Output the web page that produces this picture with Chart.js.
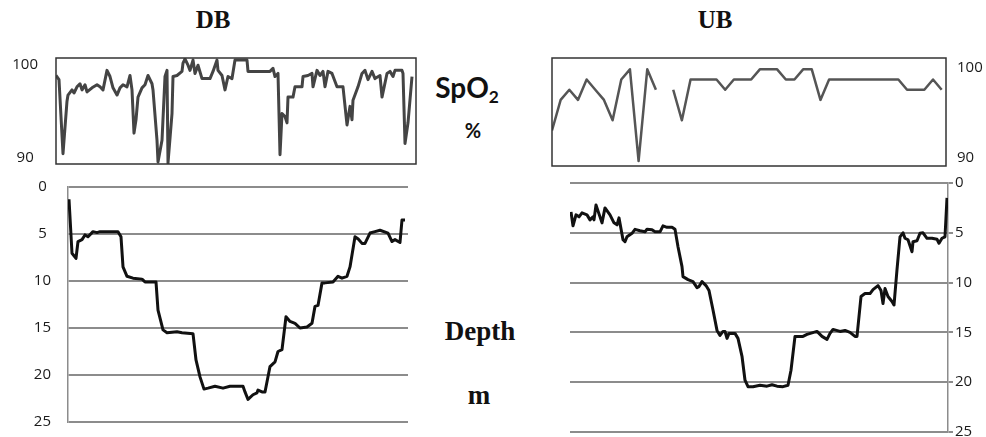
<!DOCTYPE html>
<html><head><meta charset="utf-8">
<script src="https://cdn.jsdelivr.net/npm/chart.js@4.4.1/dist/chart.umd.min.js"></script>
<style>
html,body{margin:0;padding:0;background:#fff;}
#wrap{position:relative;width:986px;height:437px;overflow:hidden;background:#fff;}
canvas{position:absolute;}
.t{position:absolute;transform:translate(-50%,-50%);line-height:1;white-space:nowrap;color:#111;}
.serif{font-family:"Liberation Serif","DejaVu Serif",serif;font-weight:bold;}
.sans{font-family:Lato,"Open Sans",sans-serif;font-weight:bold;}
</style></head><body>
<div id="wrap">
<canvas id="dbSpo2C" width="420" height="120" style="left:0;top:50px"></canvas>
<canvas id="ubSpo2C" width="446" height="125" style="left:540px;top:50px"></canvas>
<canvas id="dbDepthC" width="420" height="255" style="left:0;top:177px"></canvas>
<canvas id="ubDepthC" width="446" height="264" style="left:540px;top:173px"></canvas>
<div class="t serif" style="left:213px;top:19px;font-size:25px">DB</div>
<div class="t serif" style="left:715px;top:19px;font-size:25px">UB</div>
<div class="t sans" style="left:467px;top:87px;font-size:28px">SpO<span style="font-size:0.62em;position:relative;top:0.3em">2</span></div>
<div class="t sans" style="left:473px;top:130px;font-size:20px">%</div>
<div class="t serif" style="left:480px;top:331px;font-size:27px">Depth</div>
<div class="t serif" style="left:479px;top:395px;font-size:27px">m</div>
</div>
<script>
// tick labels
const spo2TickLabels = [90, 100];
const depthTickLabels = [0, 5, 10, 15, 20, 25];

// DB SpO2 (%), time in samples
const dbSpo2Time = [0,3,7,11,12,16,18,21,24,26,29,31,36,41,44,47,51,54,57,61,64,67,71,74,76,78,80,82,86,89,92,96,97,101,102,106,109,111,112,116,117,121,126,127,129,132,134,137,139,142,146,154,157,161,162,166,169,172,176,179,191,192,214,217,219,222,224,226,229,231,232,237,239,246,247,252,256,257,261,264,267,269,272,276,281,287,291,294,296,297,302,306,309,312,316,319,324,326,331,334,337,339,346,347,349,352,356];
const dbSpo2 = [98.5,98.1,90.9,96.0,96.6,97.1,96.8,97.4,97.7,97.1,
  97.6,96.9,97.3,97.6,97.4,97.1,99.0,98.4,97.3,96.6,
  97.3,97.6,97.4,98.5,97.1,92.9,94.2,96.4,97.3,97.6,
  98.5,97.7,97.1,92.2,90.1,92.2,98.4,99.0,90.0,94.8,
  98.4,98.5,98.9,99.7,100.1,99.5,99.0,100.0,98.7,99.5,
  98.2,98.2,98.9,100.0,99.0,98.5,97.1,98.4,98.2,100.0,
  100.0,98.9,98.9,99.2,98.4,98.7,90.8,94.8,94.5,93.9,
  96.4,96.4,97.4,97.4,98.4,98.5,98.7,97.4,99.0,98.5,
  98.9,97.4,98.9,98.7,97.4,97.4,93.7,95.5,94.2,96.1,
  97.4,98.7,99.0,98.1,98.9,98.2,98.5,96.4,98.7,98.9,
  98.4,99.0,99.0,98.7,91.9,93.9,98.4];

// UB SpO2 (%)
const ubSpo2Sample = [0,1,2,3,4,5,6,7,8,9,10,11,12,13,14,15,16,17,18,19,20,21,22,23,24,25,26,27,28,29,30,31,32,33,34,35,36,37,38,39,40,41,42,43,44,45];
const ubSpo2 = [94,97,98,97,99,98,97,95,99,100,
  91,100,98,null,98,95,99,99,99,99,
  98,99,99,99,100,100,100,99,99,100,
  100,97,99,99,99,99,99,99,99,99,
  99,98,98,98,99,98];

// DB depth (m)
const dbDepthTime = [1,4,8,10,14,17,20,25,29,32,50,53,55,59,65,74,77,88,90,95,99,109,114,125,128,132,136,140,147,155,162,175,177,180,185,189,190,194,197,202,207,210,214,218,222,227,232,239,244,247,250,254,257,265,270,274,279,282,287,290,294,297,302,307,312,320,324,327,332,334,337];
const dbDepth = [1.3,7.05,7.6,5.8,5.6,5.1,5.3,4.75,4.85,4.75,
  4.75,5.3,8.5,9.5,9.7,9.8,10.1,10.1,13.1,15.2,
  15.5,15.4,15.5,15.6,18.4,20.2,21.5,21.4,21.2,21.4,
  21.2,21.2,21.8,22.6,22.1,21.9,21.6,21.8,21.8,19.1,
  18.6,17.5,17.3,13.8,14.3,14.5,15.0,14.9,14.5,12.7,
  12.6,10.2,10.2,10.1,9.5,9.7,9.5,8.5,5.3,5.5,
  6.0,6.0,4.9,4.75,4.6,4.9,5.8,5.6,5.9,3.5,
  3.5];

// UB depth (m)
const ubDepthTime = [1,3,6,9,12,17,20,23,24,26,30,32,35,40,44,47,49,53,55,57,62,65,70,75,77,82,85,90,93,97,102,105,108,112,113,118,123,127,129,132,136,139,143,147,150,153,155,157,159,165,168,172,175,178,183,190,197,202,207,213,218,221,225,233,237,247,252,257,260,263,270,275,280,285,287,291,295,300,303,308,311,313,315,318,322,324,327,330,333,335,338,342,343,347,350,353,357,362,367,369,372,375,377];
const ubDepth = [2.9,4.3,3.2,3.4,3.0,3.2,3.7,3.4,3.7,2.2,
  3.4,4.0,2.5,3.2,4.0,4.2,3.5,5.7,5.9,5.4,
  5.05,4.65,4.8,4.9,4.65,4.7,4.9,4.9,4.3,4.45,
  4.45,4.65,6.4,8.4,9.4,9.7,9.9,10.5,10.4,9.9,
  10.3,10.8,12.75,14.8,15.3,14.9,14.9,15.6,15.1,15.1,
  15.6,17.4,19.8,20.45,20.45,20.3,20.4,20.25,20.4,20.45,
  20.3,18.8,15.4,15.4,15.2,14.9,15.4,15.7,15.1,14.7,
  14.9,14.8,15.0,15.4,15.4,11.4,11.1,11.1,10.7,10.3,
  10.8,12.1,10.6,11.4,11.9,12.25,8.7,5.4,5.0,5.55,
  5.7,6.9,5.9,5.8,5.05,5.0,5.55,5.55,5.65,6.05,
  5.55,5.4,1.5];

function pts(xs, ys){ return xs.map((x,i)=>({x:x, y:ys[i]})); }
function fixAxis(w){ return function(s){ s.width = w; s.paddingTop = 0; s.paddingBottom = 0; }; }
function setTicks(vals){ return function(s){ s.ticks = vals.map(v=>({value:v})); }; }

const boxPlugin = {
  id:'box',
  afterDatasetsDraw(chart, args, opts){
    if(!opts || !opts.show) return;
    const a = chart.chartArea, c = chart.ctx;
    c.save(); c.strokeStyle = opts.color; c.lineWidth = opts.width;
    c.strokeRect(a.left, a.top, a.right-a.left, a.bottom-a.top);
    c.restore();
  }
};

const common = {responsive:false, animation:false, devicePixelRatio:1, events:[]};
const tickFont = {family:'"Open Sans", sans-serif', size:15};
const depthFont = {family:'"Open Sans", sans-serif', size:15};
const gridGray = '#8c8c8c';

new Chart(document.getElementById('dbSpo2C'), {
  type:'line',
  data:{datasets:[{data:pts(dbSpo2Time, dbSpo2), yAxisID:'y', borderColor:'#444', borderWidth:3, pointRadius:0, tension:0, borderJoinStyle:'round'}]},
  options:Object.assign({}, common, {
    layout:{padding:{top:8,bottom:6,left:0,right:4}},
    plugins:{legend:{display:false}, tooltip:{enabled:false}, box:{show:true,color:'#333',width:1.5}},
    scales:{
      x:{type:'linear', min:0, max:360, display:false},
      y:{type:'linear', min:89.9, max:100.2, display:false},
      yLab:{type:'linear', position:'left', min:89.355, max:100.753, afterBuildTicks:setTicks(spo2TickLabels), afterFit:fixAxis(56),
        grid:{display:false, drawTicks:false}, border:{display:false},
        ticks:{padding:18, crossAlign:'center', font:tickFont, color:'#1a1a1a'}}
    }
  }),
  plugins:[boxPlugin]
});

new Chart(document.getElementById('ubSpo2C'), {
  type:'line',
  data:{datasets:[{data:pts(ubSpo2Sample, ubSpo2), yAxisID:'y', borderColor:'#555', borderWidth:2.5, pointRadius:0, tension:0, borderJoinStyle:'round', spanGaps:false}]},
  options:Object.assign({}, common, {
    layout:{padding:{top:8,bottom:9,left:12,right:0}},
    plugins:{legend:{display:false}, tooltip:{enabled:false}, box:{show:true,color:'#333',width:1.5}},
    scales:{
      x:{type:'linear', min:0, max:45.5, display:false},
      y:{type:'linear', min:90.52, max:101.11, display:false},
      yLab:{type:'linear', position:'right', min:89.11, max:101.11, afterBuildTicks:setTicks(spo2TickLabels), afterFit:fixAxis(40),
        grid:{display:false, drawTicks:false}, border:{display:false},
        ticks:{padding:11, crossAlign:'near', font:tickFont, color:'#1a1a1a'}}
    }
  }),
  plugins:[boxPlugin]
});

new Chart(document.getElementById('dbDepthC'), {
  type:'line',
  data:{datasets:[{data:pts(dbDepthTime, dbDepth), borderColor:'#111', borderWidth:3, pointRadius:0, tension:0, borderJoinStyle:'round'}]},
  options:Object.assign({}, common, {
    layout:{padding:{top:10,bottom:10,left:0,right:12}},
    plugins:{legend:{display:false}, tooltip:{enabled:false}},
    scales:{
      x:{type:'linear', min:0, max:340, display:false},
      y:{type:'linear', position:'left', reverse:true, min:0, max:25, afterBuildTicks:setTicks(depthTickLabels), afterFit:fixAxis(68),
        grid:{color:gridGray, lineWidth:2, drawTicks:false}, border:{display:true, color:gridGray, width:1.5},
        ticks:{padding:17, crossAlign:'center', font:depthFont, color:'#1a1a1a'}}
    }
  })
});

new Chart(document.getElementById('ubDepthC'), {
  type:'line',
  data:{datasets:[{data:pts(ubDepthTime, ubDepth), borderColor:'#111', borderWidth:3, pointRadius:0, tension:0, borderJoinStyle:'round'}]},
  options:Object.assign({}, common, {
    layout:{padding:{top:10,bottom:5,left:30,right:0}},
    plugins:{legend:{display:false}, tooltip:{enabled:false}},
    scales:{
      x:{type:'linear', min:0, max:378, display:false},
      y:{type:'linear', position:'right', reverse:true, min:0, max:25, afterBuildTicks:setTicks(depthTickLabels), afterFit:fixAxis(38),
        grid:{color:gridGray, lineWidth:2, drawTicks:true, tickLength:5}, border:{display:true, color:gridGray, width:1.5},
        ticks:{padding:2, crossAlign:'near', font:depthFont, color:'#1a1a1a'}}
    }
  })
});
</script>
</body></html>
